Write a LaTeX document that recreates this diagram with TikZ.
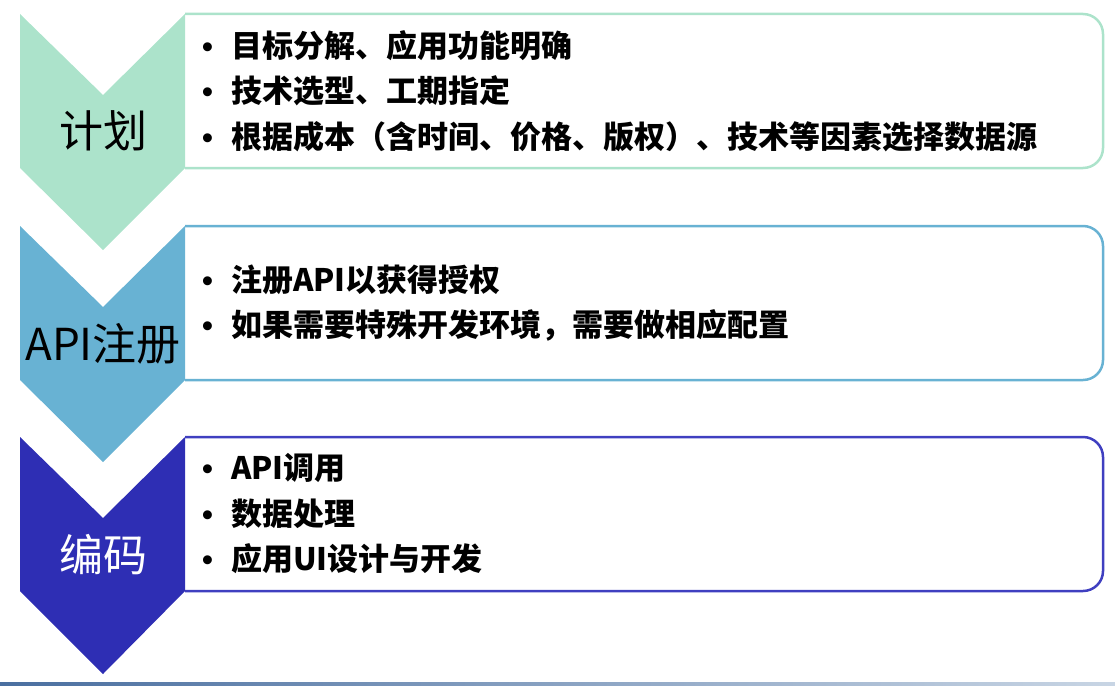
\documentclass[tikz,border=0pt]{standalone}
\usepackage{fontspec}
\setmainfont{Noto Sans CJK SC}
\newfontfamily\bulfont{Liberation Sans}
\usetikzlibrary{positioning}
\definecolor{plangreen}{HTML}{ACE3CB}
\definecolor{regblue}{HTML}{68B2D3}
\definecolor{codeblue}{HTML}{2E2EB4}
\definecolor{codeline}{HTML}{3F3FC0}
\definecolor{barleft}{HTML}{4A6FA0}
\definecolor{barright}{HTML}{C8D5E4}
\newcommand{\bul}{\makebox[29pt][l]{\bulfont\textbullet}}

\begin{document}
\begin{tikzpicture}[
    x=1pt, y=-1pt,
    itembox/.style={line width=2.5pt, rounded corners=20pt},
    steplabel/.style={font=\fontsize{44}{48}\selectfont, inner sep=0pt},
    itemlist/.style={
        align=left, anchor=west, inner sep=0pt,
        font=\fontsize{31}{45.5}\selectfont\bfseries
    }
]
    \useasboundingbox (0,0) rectangle (1115,685);

    % stage 1
    \draw[itembox, draw=plangreen] (185,14) -- (1103,14) -- (1103,168) -- (185,168);
    \fill[plangreen] (20,14) -- (103,95) -- (185,14) -- (185,168) -- (103,250) -- (20,168) -- cycle;
    \node[steplabel] (Plan) at (103,131) {计划};
    \node[itemlist] (PlanItems) at (202,91) {\bul 目标分解、应用功能明确\\
        \bul 技术选型、工期指定\\
        \bul 根据成本（含时间、价格、版权）、技术等因素选择数据源};

    % stage 2
    \draw[itembox, draw=regblue] (185,226) -- (1103,226) -- (1103,380) -- (185,380);
    \fill[regblue] (20,226) -- (103,307) -- (185,226) -- (185,380) -- (103,462) -- (20,380) -- cycle;
    \node[steplabel] (Reg) at (103,344) {API注册};
    \node[itemlist] (RegItems) at (202,303) {\bul 注册API以获得授权\\
        \bul 如果需要特殊开发环境，需要做相应配置};

    % stage 3
    \draw[itembox, draw=codeline] (185,437) -- (1103,437) -- (1103,591) -- (185,591);
    \fill[codeblue] (20,437) -- (103,518) -- (185,437) -- (185,591) -- (103,674) -- (20,591) -- cycle;
    \node[steplabel, text=white] (Code) at (103,555) {编码};
    \node[itemlist] (CodeItems) at (202,514) {\bul API调用\\
        \bul 数据处理\\
        \bul 应用UI设计与开发};

    % bottom bar
    \shade[left color=barleft, right color=barright] (0,682) rectangle (1115,685);
\end{tikzpicture}
\end{document}
